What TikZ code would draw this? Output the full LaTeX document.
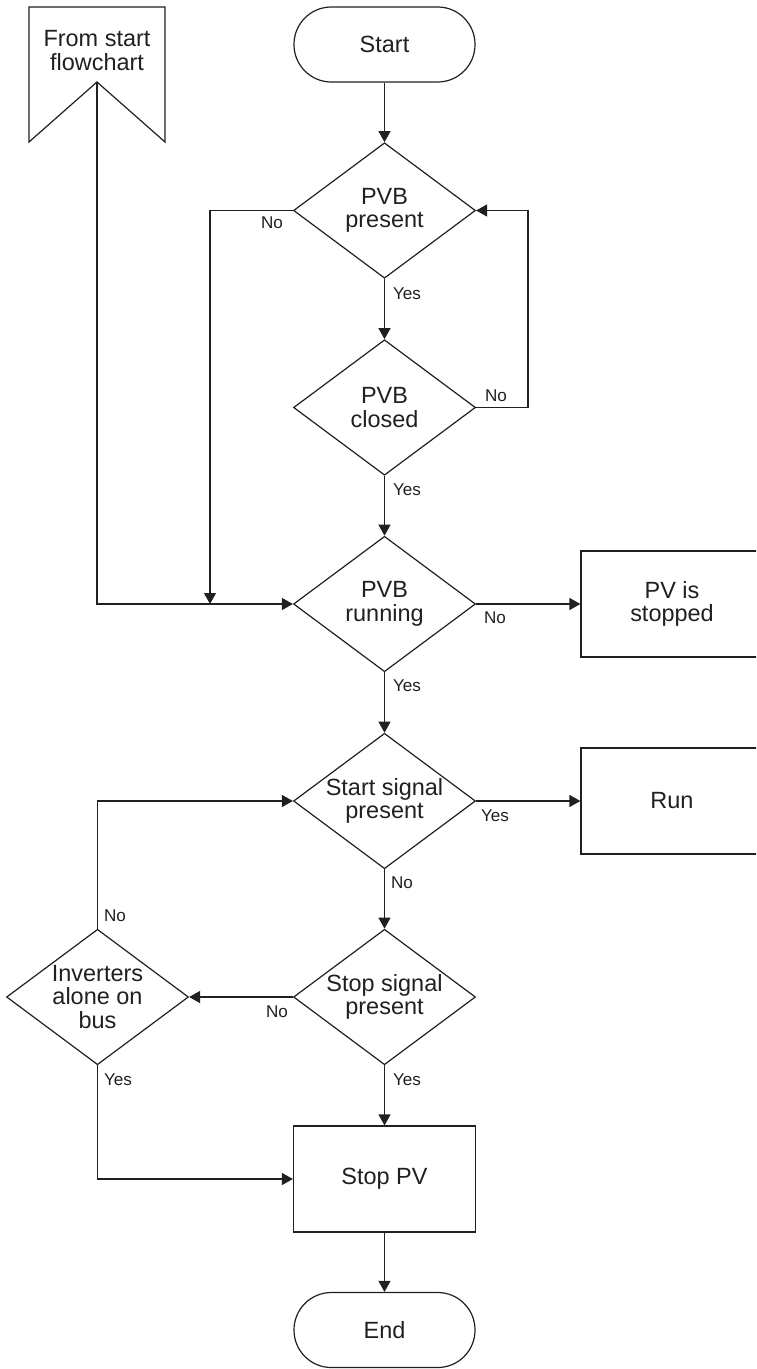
\documentclass[tikz,border=0pt]{standalone}
\usepackage{fontspec}
\setmainfont{Liberation Sans}
\usetikzlibrary{arrows.meta,shapes.geometric}
\definecolor{ink}{HTML}{231F20}
\begin{document}
\begin{tikzpicture}[x=0.75pt,y=-0.75pt,line width=0.9pt,color=ink,
  maintext/.style={font=\fontsize{17.6pt}{17.5pt}\selectfont,align=center,inner sep=0pt},
  lbl/.style={font=\fontsize{12.8pt}{14pt}\selectfont,inner sep=0pt},
  term/.style={draw,rectangle,rounded corners=28pt,minimum width=135.75pt,minimum height=56.25pt,inner sep=0pt,maintext},
  proc/.style={draw,rectangle,minimum width=136.5pt,minimum height=79.5pt,inner sep=0pt,maintext},
  dec/.style={draw,diamond,minimum width=136.5pt,minimum height=101.6pt,inner sep=0pt},
  arr/.style={-{Triangle[length=8.25pt,width=9pt]}}]
\clip (0,0) rectangle (756,1369);
\fill[white] (0,0) rectangle (756,1369);
% banner (off-page connector)
\draw (29,7) -- (165,7) -- (165,142) -- (97,82) -- (29,142) -- cycle;
\coordinate (bn) at (97,82);
\node[maintext] (banner) at (97,50.5) {From start\\flowchart};
% nodes
\node[term] (start) at (384.5,44.5) {Start};
\node[dec] (d1) at (384.5,210.5) {};
\node[maintext] (d1t) at (d1) {PVB\\present};
\node[dec] (d2) at (384.5,407.5) {};
\node[maintext] (d2t) at (d2) {PVB\\closed};
\node[dec] (d3) at (384.5,604) {};
\node[maintext] (d3t) at (d3) {PVB\\running};
\node[proc] (stopped) at (672,604) {PV is\\stopped};
\node[dec] (d4) at (384.5,801) {};
\node[maintext] (d4t) at (d4) {Start signal\\present};
\node[proc] (run) at (672,801) {Run};
\node[dec] (d5) at (384.5,997) {};
\node[maintext] (d5t) at (d5) {Stop signal\\present};
\node[dec] (d6) at (97.5,997) {};
\node[maintext] (d6t) at (d6) {Inverters\\alone on\\bus};
\node[proc] (stoppv) at (384.5,1179) {Stop PV};
\node[term] (end) at (384.5,1330) {End};
% helper coordinates
\coordinate (r1) at (528,407.5);
\coordinate (l1) at (210,210.5);
\coordinate (j1) at (210,604);
% connectors
\draw[arr] (start) -- (d1.north);
\draw[arr] (d1.south) -- (d2.north);
\draw[arr] (d2.east) -- (r1) |- (d1.east);
\draw[arr] (d1.west) -- (l1) -- (j1);
\draw[arr] (bn) |- (d3.west);
\draw[arr] (d2.south) -- (d3.north);
\draw[arr] (d3.east) -- (stopped.west);
\draw[arr] (d3.south) -- (d4.north);
\draw[arr] (d4.east) -- (run.west);
\draw[arr] (d4.south) -- (d5.north);
\draw[arr] (d5.west) -- (d6.east);
\draw[arr] (d6.north) |- (d4.west);
\draw[arr] (d6.south) |- (stoppv.west);
\draw[arr] (d5.south) -- (stoppv.north);
\draw[arr] (stoppv.south) -- (end.north);
% labels
\node[lbl] (n1) at (272,223) {No};
\node[lbl] (y1) at (407,294) {Yes};
\node[lbl] (n2) at (496,396) {No};
\node[lbl] (y2) at (407,490) {Yes};
\node[lbl] (n3) at (495,618) {No};
\node[lbl] (y3) at (407,686) {Yes};
\node[lbl] (y4) at (495,816) {Yes};
\node[lbl] (n4) at (402,883) {No};
\node[lbl] (n5) at (115,916) {No};
\node[lbl] (n6) at (277,1012) {No};
\node[lbl] (y5) at (118,1080) {Yes};
\node[lbl] (y6) at (407,1080) {Yes};
\end{tikzpicture}
\end{document}
